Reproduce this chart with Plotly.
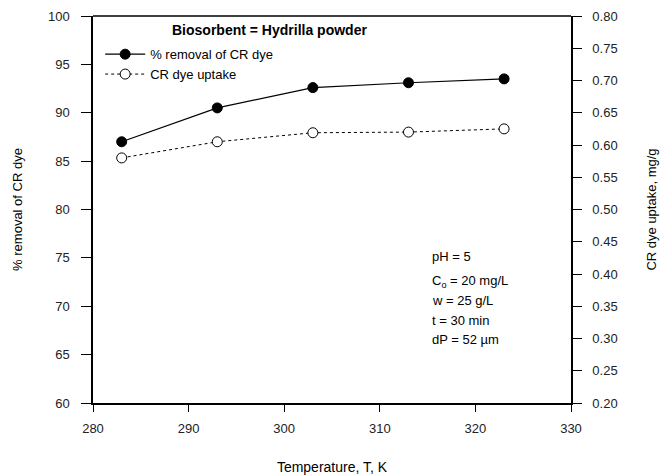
import plotly.graph_objects as go

temperature = [283, 293, 303, 313, 323]
removal_pct = [87.0, 90.5, 92.6, 93.1, 93.5]
uptake_mg_g = [0.580, 0.605, 0.619, 0.620, 0.625]

FONT = "Liberation Sans, Arial, sans-serif"

fig = go.Figure()
fig.add_trace(go.Scatter(
    x=temperature, y=removal_pct, name="% removal of CR dye",
    mode="lines+markers",
    line=dict(color="black", width=1.2),
    marker=dict(symbol="circle", size=10, color="black", line=dict(color="black", width=1)),
))
fig.add_trace(go.Scatter(
    x=temperature, y=uptake_mg_g, name="CR dye uptake", yaxis="y2",
    mode="lines+markers",
    line=dict(color="black", width=1, dash="dot"),
    marker=dict(symbol="circle", size=10, color="white", line=dict(color="black", width=1)),
))

def axis_common(ticklen, standoff):
    return dict(showgrid=False, zeroline=False, showline=True, linecolor="black", linewidth=1.5,
                ticks="outside", ticklen=ticklen, tickwidth=1.2, tickcolor="black",
                ticklabelstandoff=standoff, automargin=False,
                tickfont=dict(family=FONT, size=13, color="#222"))

fig.update_layout(
    width=660, height=475,
    margin=dict(l=93, r=89, t=16, b=72),
    plot_bgcolor="white", paper_bgcolor="white",
    font=dict(family=FONT, size=13, color="black"),
    xaxis=dict(range=[280, 330], dtick=10,
               title=dict(text="Temperature, T, K", font=dict(family=FONT, size=14), standoff=30),
               **axis_common(7, 6)),
    yaxis=dict(range=[60, 100], dtick=5,
               title=dict(text="% removal of CR dye", font=dict(family=FONT, size=13), standoff=22),
               **axis_common(10, 9)),
    yaxis2=dict(range=[0.2, 0.8], dtick=0.05, tickformat=".2f", overlaying="y", side="right",
                title=dict(text="CR dye uptake, mg/g", font=dict(family=FONT, size=13), standoff=30),
                **axis_common(9, 8)),
    showlegend=True,
    legend=dict(x=0.015, y=0.94, xanchor="left", yanchor="top", bgcolor="rgba(0,0,0,0)",
                font=dict(family=FONT, size=13), tracegroupgap=0, itemwidth=40),
)

# top frame line
fig.add_shape(type="line", xref="paper", yref="paper", x0=0, x1=1, y0=1, y1=1,
              line=dict(color="black", width=1.5))

fig.add_annotation(x=0.37, y=0.99, xref="paper", yref="paper", xanchor="center", yanchor="top",
                   text="<b>Biosorbent = Hydrilla powder</b>", showarrow=False,
                   font=dict(family=FONT, size=14))

conditions = ["pH = 5", "C<sub>o</sub> = 20 mg/L", "w = 25 g/L", "t = 30 min", "dP = 52 µm"]
cond_y = [0.378, 0.313, 0.266, 0.212, 0.163]
for txt, yy in zip(conditions, cond_y):
    fig.add_annotation(x=0.705, y=yy, xref="paper", yref="paper", xanchor="left", yanchor="middle",
                       text=txt, showarrow=False, align="left",
                       font=dict(family=FONT, size=13))

fig.write_html("out.html", config={"displayModeBar": False},
               post_script="document.body.style.margin='0';document.body.style.overflow='hidden';")
